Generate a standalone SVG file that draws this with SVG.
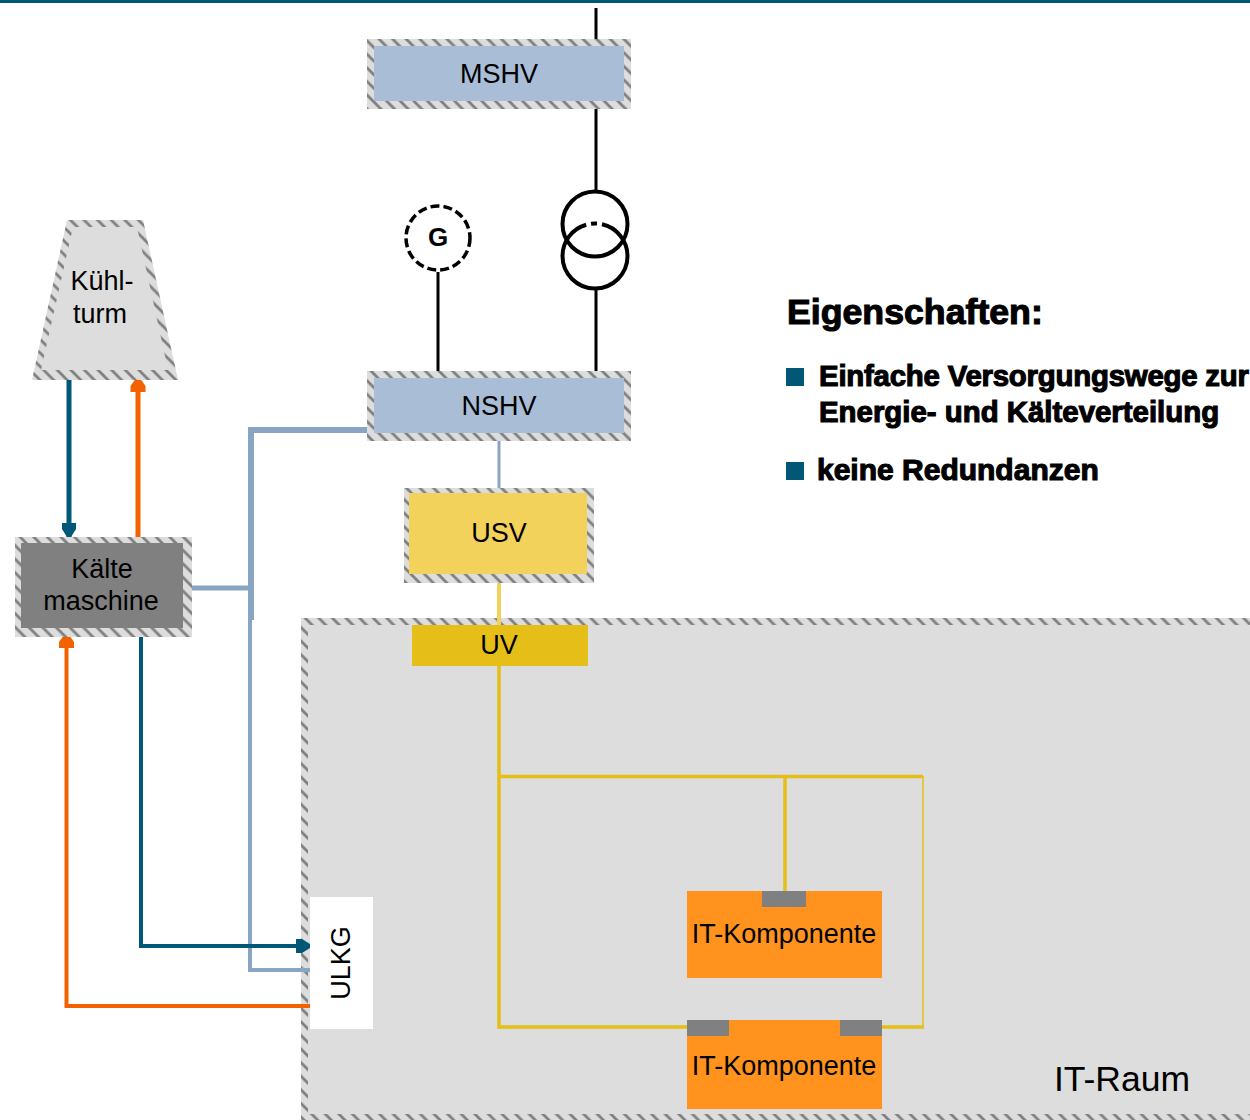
<svg xmlns="http://www.w3.org/2000/svg" width="1250" height="1120" viewBox="0 0 1250 1120">
<style>
text{font-family:"Liberation Sans",Arial,sans-serif;fill:#000}
.l{font-size:27px;text-anchor:middle}
.b{font-weight:bold;stroke:#000;stroke-width:1.1px}
.h{fill:url(#hatch)}
</style>
<defs>
<pattern id="hatch" patternUnits="userSpaceOnUse" width="13.6" height="13.6">
<rect width="13.6" height="13.6" fill="#dddddd"/>
<path d="M-2 -2L15.600 15.600M-2 11.600L2 15.600M11.600 -2L15.600 2" stroke="#808080" stroke-width="2.800" fill="none"/>
</pattern>
<marker id="hb" markerUnits="userSpaceOnUse" markerWidth="16" markerHeight="16" refX="14" refY="7.500" orient="auto"><path d="M0 0.500L6 0.500L14 5.500L14 9.500L6 14.500L0 14.500Z" fill="#005876"/></marker>
<marker id="ho" markerUnits="userSpaceOnUse" markerWidth="17" markerHeight="17" refX="16" refY="8" orient="auto"><path d="M0 0.500L0 15.500L6 15.500L16 8.500L16 7.500L6 0.500Z" fill="#f46200"/></marker>
</defs>
<rect width="1250" height="1120" fill="#ffffff"/>
<rect id="topbar" width="1250" height="3" fill="#005876"/>

<g id="it-raum">
<rect class="h" x="301" y="618" width="960" height="510"/>
<rect x="308" y="625" width="960" height="489" fill="#dddddd"/>
<text x="1122" y="1091" font-size="35.500" text-anchor="middle">IT-Raum</text>
</g>

<g id="connectors" fill="none">
<path d="M596 8V39M596 109V192M596 289V372M438 272V372" stroke="#000" stroke-width="3"/>
<path d="M499 441V488" stroke="#88a5c4" stroke-width="3"/>
<path d="M499 583V625" stroke="#f2d25a" stroke-width="4"/>
<path d="M499 666V1027H687M499 776.500H923" stroke="#e5bf17" stroke-width="3.500"/>
<path d="M785 776V891" stroke="#e5bf17" stroke-width="3.500"/>
<path d="M923 1027V776" stroke="#e5bf17" stroke-width="1.500"/>
<path d="M882 1027H924" stroke="#e5bf17" stroke-width="3.500"/>
<path d="M368 430H251V620" stroke="#88a5c4" stroke-width="6"/>
<path d="M190 588H251" stroke="#88a5c4" stroke-width="5"/>
<path d="M250 620V970H310" stroke="#88a5c4" stroke-width="4"/>
<path d="M69 378V537" stroke="#005876" stroke-width="5" marker-end="url(#hb)"/>
<path d="M138 537V376" stroke="#f46200" stroke-width="5" marker-end="url(#ho)"/>
<path d="M141 637V946H310" stroke="#005876" stroke-width="4" marker-end="url(#hb)"/>
<path d="M310 1006H66.500V632" stroke="#f46200" stroke-width="4" marker-end="url(#ho)"/>
</g>

<g id="mshv">
<rect class="h" x="367" y="39" width="264" height="70"/>
<rect x="374" y="46" width="250" height="55" fill="#a9bed6"/>
<text class="l" x="499" y="83">MSHV</text>
</g>
<g id="generator">
<circle cx="438" cy="238" r="32" fill="#fff" stroke="#000" stroke-width="3.500" stroke-dasharray="9 4"/>
<text x="438" y="246" font-size="26" font-weight="bold" text-anchor="middle">G</text>
</g>
<g id="trafo" fill="none" stroke="#000" stroke-width="4">
<circle cx="595" cy="224" r="32.500"/>
<path d="M562.500 256A32.500 32.500 0 0 0 627.500 256"/>
<path d="M562.500 256A32.500 32.500 0 0 1 627.500 256" stroke-dasharray="42 5 6 5 44 0"/>
</g>
<g id="nshv">
<rect class="h" x="367" y="371" width="264" height="70"/>
<rect x="374" y="378" width="250" height="55" fill="#a9bed6"/>
<text class="l" x="499" y="415">NSHV</text>
</g>
<g id="usv">
<rect class="h" x="404" y="488" width="190" height="95"/>
<rect x="409" y="493" width="178" height="81" fill="#f2d25a"/>
<text class="l" x="499" y="542">USV</text>
</g>
<g id="uv">
<rect x="412" y="625" width="176" height="41" fill="#e5bf17"/>
<text class="l" x="499" y="654">UV</text>
</g>
<g id="kuehlturm">
<polygon class="h" points="67,220 143,220 178,380 32,380"/>
<polygon points="73,227 137,227 168,370 41,370" fill="#dddddd"/>
<text class="l" x="102" y="290">Kühl-</text>
<text class="l" x="100" y="323">turm</text>
</g>
<g id="kaelte">
<rect class="h" x="15" y="537" width="177" height="100"/>
<rect x="21" y="543" width="162" height="85" fill="#808080"/>
<text class="l" x="102" y="578">Kälte</text>
<text class="l" x="101" y="610">maschine</text>
</g>
<g id="ulkg">
<rect x="310" y="897" width="63" height="132" fill="#ffffff"/>
<text class="l" transform="translate(350 963) rotate(-90)">ULKG</text>
</g>
<g id="it-komponente-1">
<rect x="687" y="891" width="195" height="87" fill="#ff931e"/>
<rect x="762" y="891" width="44" height="16" fill="#808080"/>
<text class="l" x="784" y="943">IT-Komponente</text>
</g>
<g id="it-komponente-2">
<rect x="687" y="1020" width="195" height="89" fill="#ff931e"/>
<rect x="687" y="1020" width="42" height="16" fill="#808080"/>
<rect x="840" y="1020" width="42" height="16" fill="#808080"/>
<text class="l" x="784" y="1075">IT-Komponente</text>
</g>
<g id="eigenschaften">
<text class="b" x="787" y="324" font-size="35.700">Eigenschaften:</text>
<rect x="786" y="368" width="18" height="18" fill="#005876"/>
<text class="b" x="819" y="386" font-size="29.400" textLength="430" lengthAdjust="spacing">Einfache Versorgungswege zur</text>
<text class="b" x="819" y="422" font-size="29.400">Energie- und Kälteverteilung</text>
<rect x="786" y="462" width="18" height="18" fill="#005876"/>
<text class="b" x="817" y="480" font-size="30">keine Redundanzen</text>
</g>
</svg>
